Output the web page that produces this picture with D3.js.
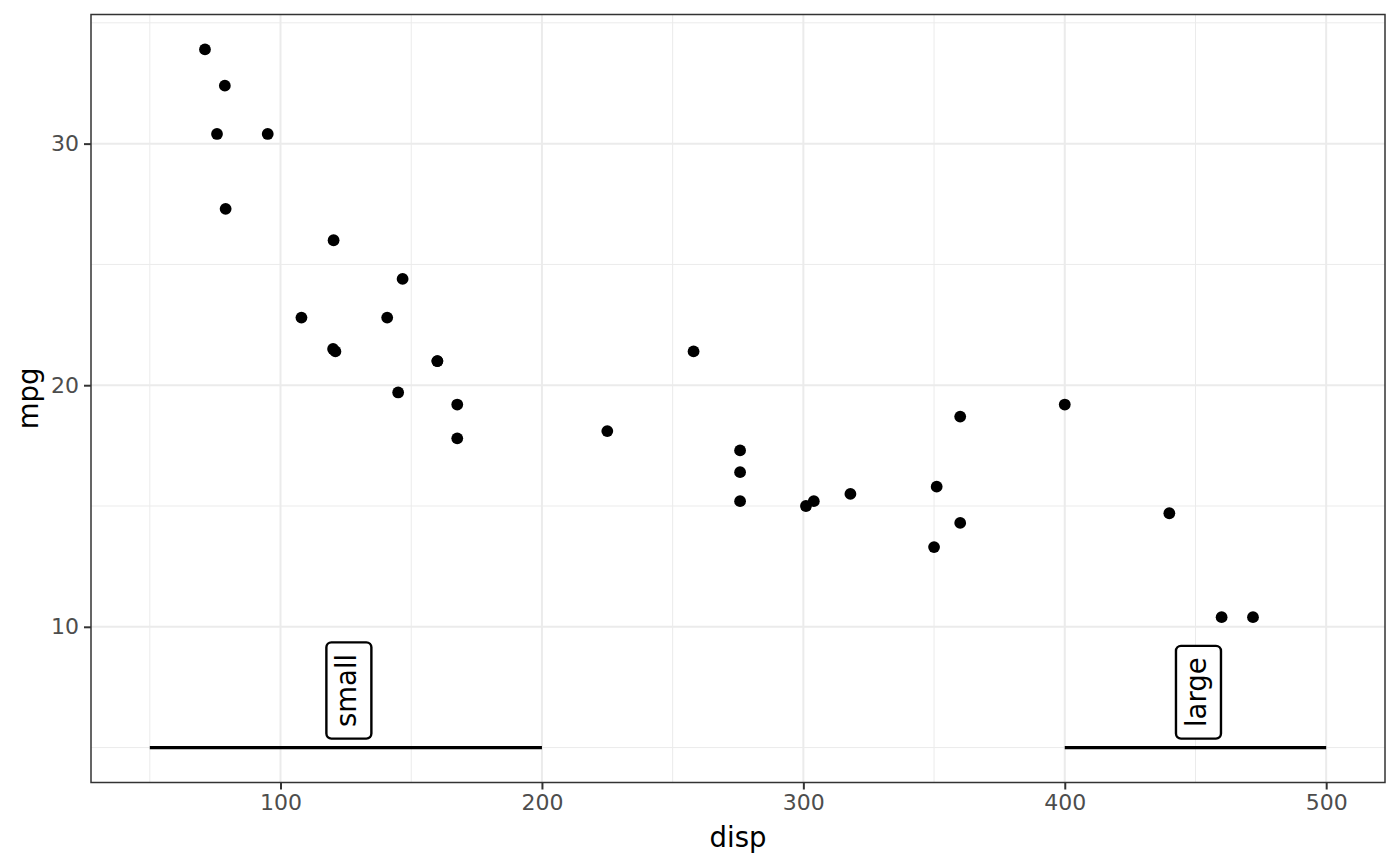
<!DOCTYPE html>
<html><head><meta charset="utf-8">
<script src="https://cdn.jsdelivr.net/npm/d3@7"></script>
<style>body{margin:0;background:#fff}svg{display:block}text{font-family:"DejaVu Sans",sans-serif}</style>
</head><body><svg id="c" width="1400" height="866"></svg>
<script>
const disp = [160,160,108,258,360,225,360,146.7,140.8,167.6,167.6,275.8,275.8,275.8,472,460,440,78.7,75.7,71.1,120.1,318,304,350,400,79,120.3,95.1,351,145,301,121];
const mpg  = [21,21,22.8,21.4,18.7,18.1,14.3,24.4,22.8,19.2,17.8,16.4,17.3,15.2,10.4,10.4,14.7,32.4,30.4,33.9,21.5,15.5,15.2,13.3,19.2,27.3,26,30.4,15.8,19.7,15,21.4];
const segX0 = [50, 400];
const segX1 = [200, 500];
const segY = [5, 5];
const labelX = [125, 450];
const labelText = ["small", "large"];
const xTicks = [100,200,300,400,500];
const xMinor = [50,150,250,350,450];
const yTicks = [10,20,30];
const yMinor = [5,15,25,35];

const svg = d3.select("#c");
const L=91,R=1385,T=14.5,B=782.5;
const x = d3.scaleLinear().domain([27.5,522.5]).range([L,R]);
const y = d3.scaleLinear().domain([3.555,35.345]).range([B,T]);

const g = svg.append("g");
g.append("rect").attr("x",L).attr("y",T).attr("width",R-L).attr("height",B-T).attr("fill","#fff");
g.selectAll(".mx").data(xMinor).join("line").attr("x1",d=>x(d)).attr("x2",d=>x(d)).attr("y1",T).attr("y2",B).attr("stroke","#EBEBEB").attr("stroke-width",1);
g.selectAll(".my").data(yMinor).join("line").attr("y1",d=>y(d)).attr("y2",d=>y(d)).attr("x1",L).attr("x2",R).attr("stroke","#EBEBEB").attr("stroke-width",1);
g.selectAll(".Mx").data(xTicks).join("line").attr("x1",d=>x(d)).attr("x2",d=>x(d)).attr("y1",T).attr("y2",B).attr("stroke","#EBEBEB").attr("stroke-width",2);
g.selectAll(".My").data(yTicks).join("line").attr("y1",d=>y(d)).attr("y2",d=>y(d)).attr("x1",L).attr("x2",R).attr("stroke","#EBEBEB").attr("stroke-width",2);

g.selectAll("circle").data(disp.map((d,i)=>[d,mpg[i]])).join("circle")
 .attr("cx",d=>x(d[0])).attr("cy",d=>y(d[1])).attr("r",5.9).attr("fill","#000");

g.selectAll(".seg").data(segX0).join("line")
 .attr("x1",(d,i)=>x(d)).attr("x2",(d,i)=>x(segX1[i])).attr("y1",(d,i)=>y(segY[i])).attr("y2",(d,i)=>y(segY[i]))
 .attr("stroke","#000").attr("stroke-width",3.2);

labelX.forEach((v,i)=>{
  const cx = x(v)+3, bottom = y(segY[i])-9, pad=11.5;
  const lg = g.append("g");
  const t = lg.append("text").attr("font-size",27.5).attr("fill","#000")
    .attr("transform",`translate(${cx+7.5},${bottom-pad}) rotate(-90)`).text(labelText[i]);
  const len = t.node().getComputedTextLength();
  lg.insert("rect","text").attr("x",cx-22.5).attr("width",45).attr("y",bottom-len-2*pad).attr("height",len+2*pad)
    .attr("rx",5).attr("ry",5).attr("fill","#fff").attr("stroke","#000").attr("stroke-width",2.4);
});

g.append("rect").attr("x",L).attr("y",T).attr("width",R-L).attr("height",B-T).attr("fill","none").attr("stroke","#333").attr("stroke-width",1.5);

const xa = svg.append("g").attr("transform",`translate(0,${B})`).call(d3.axisBottom(x).tickValues(xTicks).tickSize(7).tickPadding(5));
const ya = svg.append("g").attr("transform",`translate(${L},0)`).call(d3.axisLeft(y).tickValues(yTicks).tickSize(7).tickPadding(5));
[xa,ya].forEach(a=>{
  a.select(".domain").remove();
  a.selectAll(".tick line").attr("stroke","#333").attr("stroke-width",2);
  a.selectAll(".tick text").attr("fill","#4D4D4D").attr("font-size",22).attr("font-family","DejaVu Sans");
});
svg.append("text").attr("x",(L+R)/2).attr("y",847).attr("text-anchor","middle").attr("font-size",27.5).text("disp");
svg.append("text").attr("transform",`translate(38,${(T+B)/2}) rotate(-90)`).attr("text-anchor","middle").attr("font-size",27.5).text("mpg");
</script></body></html>
